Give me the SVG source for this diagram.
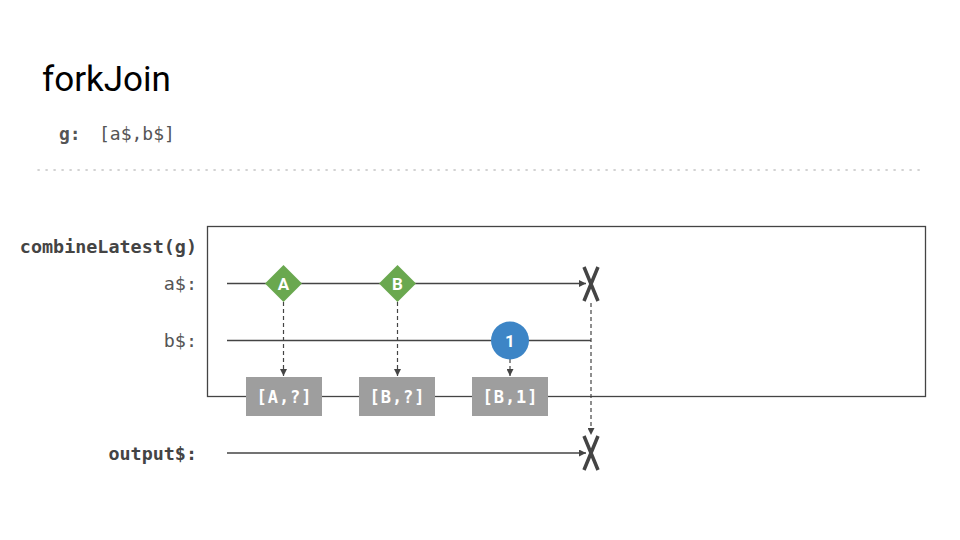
<svg xmlns="http://www.w3.org/2000/svg" width="960" height="540" viewBox="0 0 960 540">
<defs>
<style>
.mono{font-family:"DejaVu Sans Mono","Liberation Mono",monospace;}
.lbl{font-size:18.4px;fill:#555;text-anchor:end;}
.blbl{font-size:18.4px;fill:#444;font-weight:bold;text-anchor:end;}
.line{stroke:#444;stroke-width:1.3;fill:none;}
.dash{stroke:#444;stroke-width:1.2;stroke-dasharray:4 3;fill:none;}
.x{stroke:#444;stroke-width:3.5;stroke-linecap:butt;fill:none;}
.box{fill:#9e9e9e;}
.boxt{font-family:"DejaVu Sans Mono","Liberation Mono",monospace;font-size:17px;font-weight:bold;fill:#fff;text-anchor:middle;letter-spacing:1px;}
.mt{font-family:Roboto,"Liberation Sans",sans-serif;font-size:17px;font-weight:bold;fill:#fff;text-anchor:middle;}
</style>
<marker id="ah" viewBox="0 0 10 10" refX="10" refY="5" markerWidth="7" markerHeight="7" markerUnits="userSpaceOnUse" orient="auto">
<path d="M0,0 L10,5 L0,10 z" fill="#444"/>
</marker>
</defs>
<rect width="960" height="540" fill="#fff"/>
<text x="42" y="91" font-family="Roboto,'Liberation Sans',sans-serif" font-size="35" fill="#000">forkJoin</text>
<text x="59" y="140" class="mono" font-size="18" font-weight="bold" fill="#555">g:</text>
<text x="99" y="140" class="mono" font-size="18" fill="#555">[a$,b$]</text>
<line x1="38" y1="170" x2="920" y2="170" stroke="#c4c4c4" stroke-width="1.6" stroke-dasharray="1.2 6.8" stroke-linecap="round"/>
<g id="labels">
<text x="197" y="253" class="mono blbl">combineLatest(g)</text>
<text x="197" y="290" class="mono lbl">a$:</text>
<text x="197" y="347" class="mono lbl">b$:</text>
<text x="197" y="460" class="mono blbl">output$:</text>
</g>
<g id="combine-box">
<rect x="207.5" y="226.5" width="718" height="170" fill="none" stroke="#444" stroke-width="1.3"/>
</g>
<g id="connectors">
<line class="line" x1="227" y1="283.5" x2="586" y2="283.5" marker-end="url(#ah)"/>
<line class="line" x1="227" y1="340.5" x2="591" y2="340.5"/>
<line class="line" x1="227" y1="453" x2="586" y2="453" marker-end="url(#ah)"/>
<line class="dash" x1="283.5" y1="302" x2="283.5" y2="376" marker-end="url(#ah)"/>
<line class="dash" x1="397.5" y1="302" x2="397.5" y2="376" marker-end="url(#ah)"/>
<line class="dash" x1="510" y1="359" x2="510" y2="376" marker-end="url(#ah)"/>
<line class="dash" x1="591" y1="303" x2="591" y2="435" marker-end="url(#ah)"/>
</g>
<g id="a-complete">
<path class="x" d="M584,267 L598,301 M598,267 L584,301"/>
</g>
<g id="out-complete">
<path class="x" d="M584,436 L598,470 M598,436 L584,470"/>
</g>
<g id="A">
<polygon points="283.5,265 302,283.5 283.5,302 265,283.5" fill="#6aa84f"/>
<text x="283.5" y="289.5" class="mt">A</text>
</g>
<g id="B">
<polygon points="397.5,265 416,283.5 397.5,302 379,283.5" fill="#6aa84f"/>
<text x="397.5" y="289.5" class="mt">B</text>
</g>
<g id="one">
<circle cx="510" cy="340.5" r="19" fill="#3d85c6"/>
<text x="510" y="346.5" class="mt">1</text>
</g>
<g id="A-q">
<rect class="box" x="246" y="377" width="76" height="39"/>
<text x="284.5" y="403" class="boxt">[A,?]</text>
</g>
<g id="B-q">
<rect class="box" x="359" y="377" width="76" height="39"/>
<text x="397.5" y="403" class="boxt">[B,?]</text>
</g>
<g id="B-1">
<rect class="box" x="472" y="377" width="76" height="39"/>
<text x="510.5" y="403" class="boxt">[B,1]</text>
</g>
</svg>
